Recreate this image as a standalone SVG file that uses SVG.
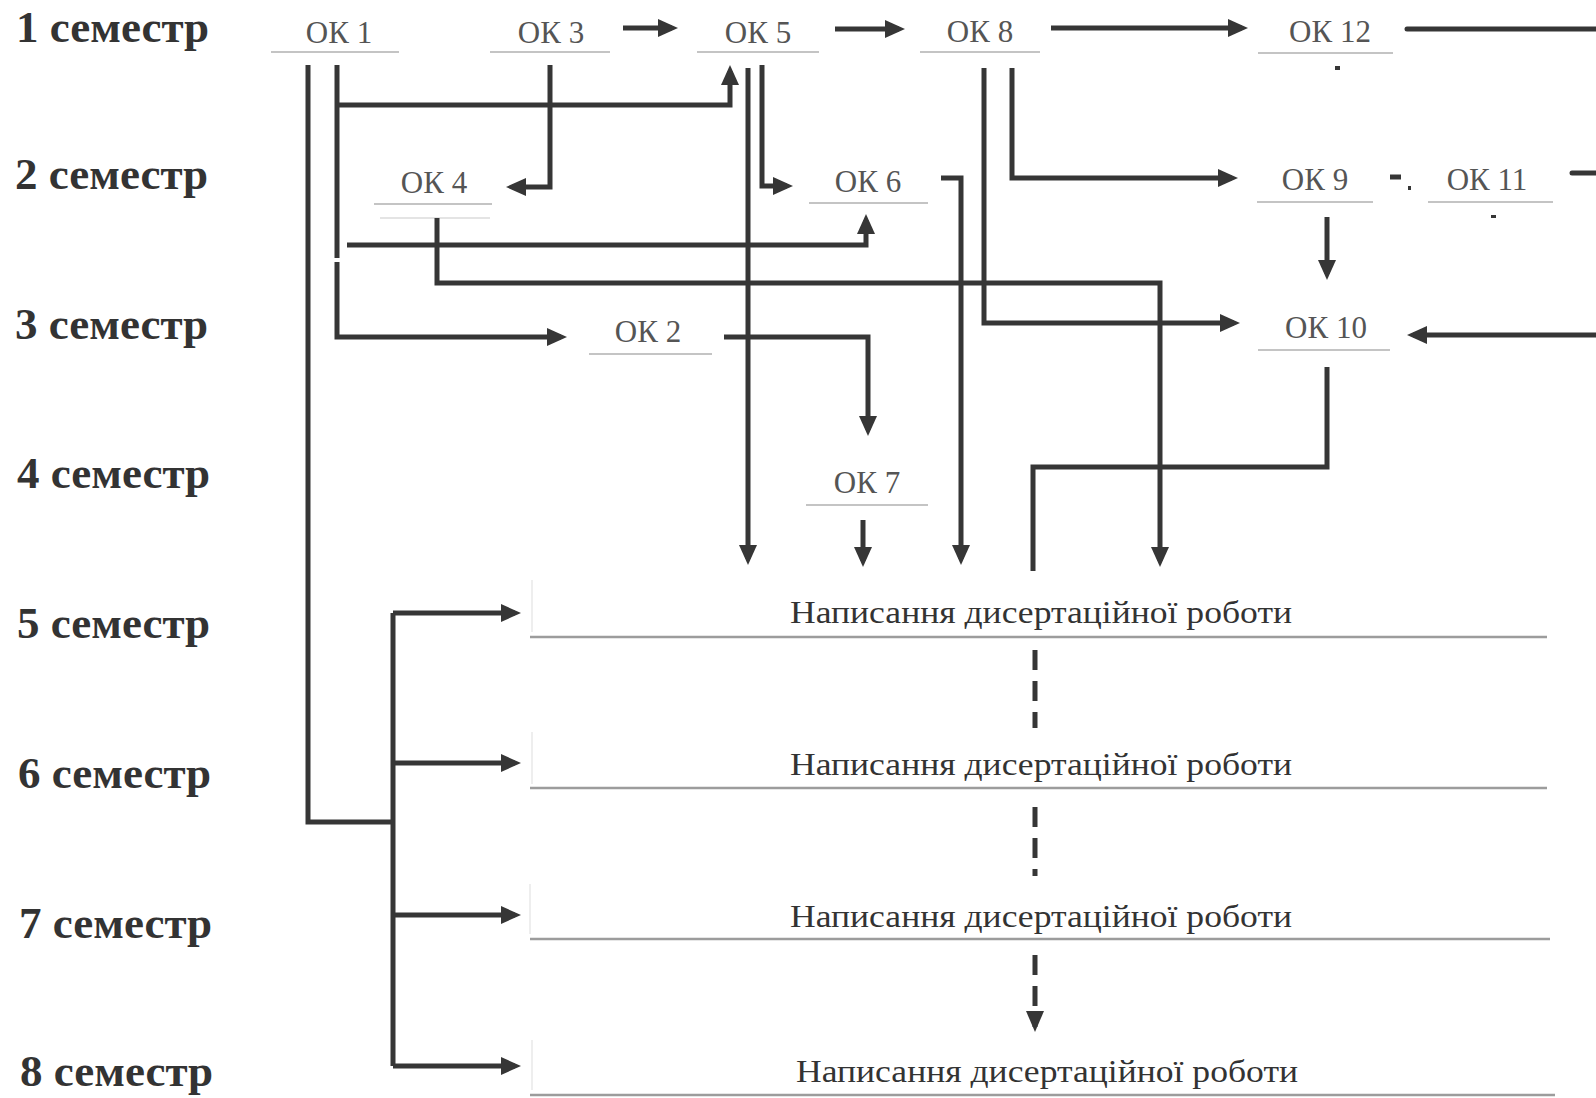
<svg xmlns="http://www.w3.org/2000/svg" width="1596" height="1098" viewBox="0 0 1596 1098">
<style>
.sem{font-family:"Liberation Serif","Times New Roman",serif;font-weight:bold;font-size:45px;fill:#333}
.ok{font-family:"Liberation Serif","Times New Roman",serif;font-size:31px;fill:#555;text-anchor:middle}
.okl{stroke:#c4c4c4;stroke-width:2;fill:none}
.okl2{stroke:#e4e4e4;stroke-width:2;fill:none}
.dis{font-family:"Liberation Serif","Times New Roman",serif;font-size:31px;fill:#333;text-anchor:middle}
.disl{stroke:#9c9c9c;stroke-width:2.5;fill:none}
.disb{stroke:#e8e8e8;stroke-width:1.5;fill:none}
.c{stroke:#363636;stroke-width:5;fill:none}
.ca{stroke:#363636;stroke-width:5;fill:none;marker-end:url(#ah)}
.cd{stroke:#363636;stroke-width:5;fill:none;stroke-dasharray:20 11}
.mk{fill:#363636}
</style>
<defs>
<marker id="ah" viewBox="0 0 20 18" refX="14" refY="9" markerWidth="20" markerHeight="18" markerUnits="userSpaceOnUse" orient="auto">
<path d="M0,0 L20,9 L0,18 z" fill="#363636"/>
</marker>
</defs>
<rect width="1596" height="1098" fill="#fff"/>

<g id="semesters">
<text class="sem" x="16" y="42">1 семестр</text>
<text class="sem" x="15" y="189">2 семестр</text>
<text class="sem" x="15" y="339">3 семестр</text>
<text class="sem" x="17" y="488">4 семестр</text>
<text class="sem" x="17" y="638">5 семестр</text>
<text class="sem" x="18" y="788">6 семестр</text>
<text class="sem" x="19" y="938">7 семестр</text>
<text class="sem" x="20" y="1086">8 семестр</text>
</g>

<g id="ok1"><text class="ok" x="339" y="43">ОК 1</text><line class="okl" x1="271" y1="52" x2="399" y2="52"/></g>
<g id="ok3"><text class="ok" x="551" y="43">ОК 3</text><line class="okl" x1="490" y1="52" x2="610" y2="52"/></g>
<g id="ok5"><text class="ok" x="758" y="43">ОК 5</text><line class="okl" x1="697" y1="52" x2="819" y2="52"/></g>
<g id="ok8"><text class="ok" x="980" y="42">ОК 8</text><line class="okl" x1="920" y1="52" x2="1040" y2="52"/></g>
<g id="ok12"><text class="ok" x="1330" y="42">ОК 12</text><line class="okl" x1="1258" y1="53" x2="1393" y2="53"/><rect class="mk" x="1335" y="66" width="5" height="4"/></g>
<g id="ok4"><text class="ok" x="434" y="193">ОК 4</text><line class="okl" x1="374" y1="204" x2="492" y2="204"/><line class="okl2" x1="380" y1="218" x2="490" y2="218"/></g>
<g id="ok6"><text class="ok" x="868" y="192">ОК 6</text><line class="okl" x1="809" y1="203" x2="928" y2="203"/></g>
<g id="ok9"><text class="ok" x="1315" y="190">ОК 9</text><line class="okl" x1="1257" y1="202" x2="1373" y2="202"/></g>
<g id="ok11"><text class="ok" x="1487" y="190">ОК 11</text><line class="okl" x1="1428" y1="202" x2="1553" y2="202"/><rect class="mk" x="1491" y="215" width="5" height="3"/></g>
<g id="ok2"><text class="ok" x="648" y="342">ОК 2</text><line class="okl" x1="589" y1="354" x2="712" y2="354"/></g>
<g id="ok10"><text class="ok" x="1326" y="338">ОК 10</text><line class="okl" x1="1258" y1="350" x2="1390" y2="350"/></g>
<g id="ok7"><text class="ok" x="867" y="493">ОК 7</text><line class="okl" x1="806" y1="505" x2="928" y2="505"/></g>

<g id="dis5"><path class="disb" d="M532,580 V632"/><text class="dis" x="1041" y="623" textLength="502" lengthAdjust="spacingAndGlyphs">Написання дисертаційної роботи</text><line class="disl" x1="530" y1="637" x2="1547" y2="637"/></g>
<g id="dis6"><path class="disb" d="M532,732 V784"/><text class="dis" x="1041" y="775" textLength="502" lengthAdjust="spacingAndGlyphs">Написання дисертаційної роботи</text><line class="disl" x1="530" y1="788" x2="1547" y2="788"/></g>
<g id="dis7"><path class="disb" d="M530,884 V934"/><text class="dis" x="1041" y="927" textLength="502" lengthAdjust="spacingAndGlyphs">Написання дисертаційної роботи</text><line class="disl" x1="530" y1="939" x2="1550" y2="939"/></g>
<g id="dis8"><path class="disb" d="M532,1040 V1090"/><text class="dis" x="1047" y="1082" textLength="502" lengthAdjust="spacingAndGlyphs">Написання дисертаційної роботи</text><line class="disl" x1="530" y1="1095" x2="1555" y2="1095"/></g>

<g id="connectors">
<path class="ca" d="M623,28 H672"/>
<path class="ca" d="M835,29 H899"/>
<path class="ca" d="M1051,28 H1242"/>
<path class="c" d="M1407,29 H1596" stroke-width="8" stroke-linecap="round"/>
<path class="c" d="M1572,173 H1596" stroke-width="8" stroke-linecap="round"/>
<path class="ca" d="M1596,335 H1413" stroke-width="6"/>
<path class="c" d="M1390,177 H1401"/>
<rect class="mk" x="1408" y="186" width="3" height="4"/>

<path class="c" d="M308,65 V822 H393"/>
<path class="c" d="M393,613 V1066"/>
<path class="ca" d="M393,613 H515"/>
<path class="ca" d="M393,763 H515"/>
<path class="ca" d="M393,915 H515"/>
<path class="ca" d="M393,1066 H515"/>

<path class="c" d="M337,65 V258"/>
<path class="ca" d="M337,105 H730 V71"/>
<path class="ca" d="M337,262 V337 H561"/>
<path class="ca" d="M347,245 H866 V220"/>
<path class="ca" d="M550,65 V187 H512"/>
<path class="ca" d="M437,218 V283 H1160 V561"/>
<path class="ca" d="M748,68 V559"/>
<path class="ca" d="M762,65 V186 H787"/>
<path class="ca" d="M941,178 H961 V559"/>
<path class="ca" d="M984,68 V323 H1234"/>
<path class="ca" d="M1012,68 V178 H1232"/>
<path class="ca" d="M1327,217 V274"/>
<path class="c" d="M1327,367 V467 H1033 V571"/>
<path class="ca" d="M724,337 H868 V430"/>
<path class="ca" d="M863,520 V561" stroke-width="7"/>
<path class="cd" d="M1035,650 V728"/>
<path class="cd" d="M1035,807 V876" stroke-dasharray="20 10"/>
<path class="cd" d="M1035,955 V1027" stroke-dasharray="20 12"/>
<path d="M1026,1011 L1044,1011 L1035,1032 z" class="mk"/>
</g>
</svg>
